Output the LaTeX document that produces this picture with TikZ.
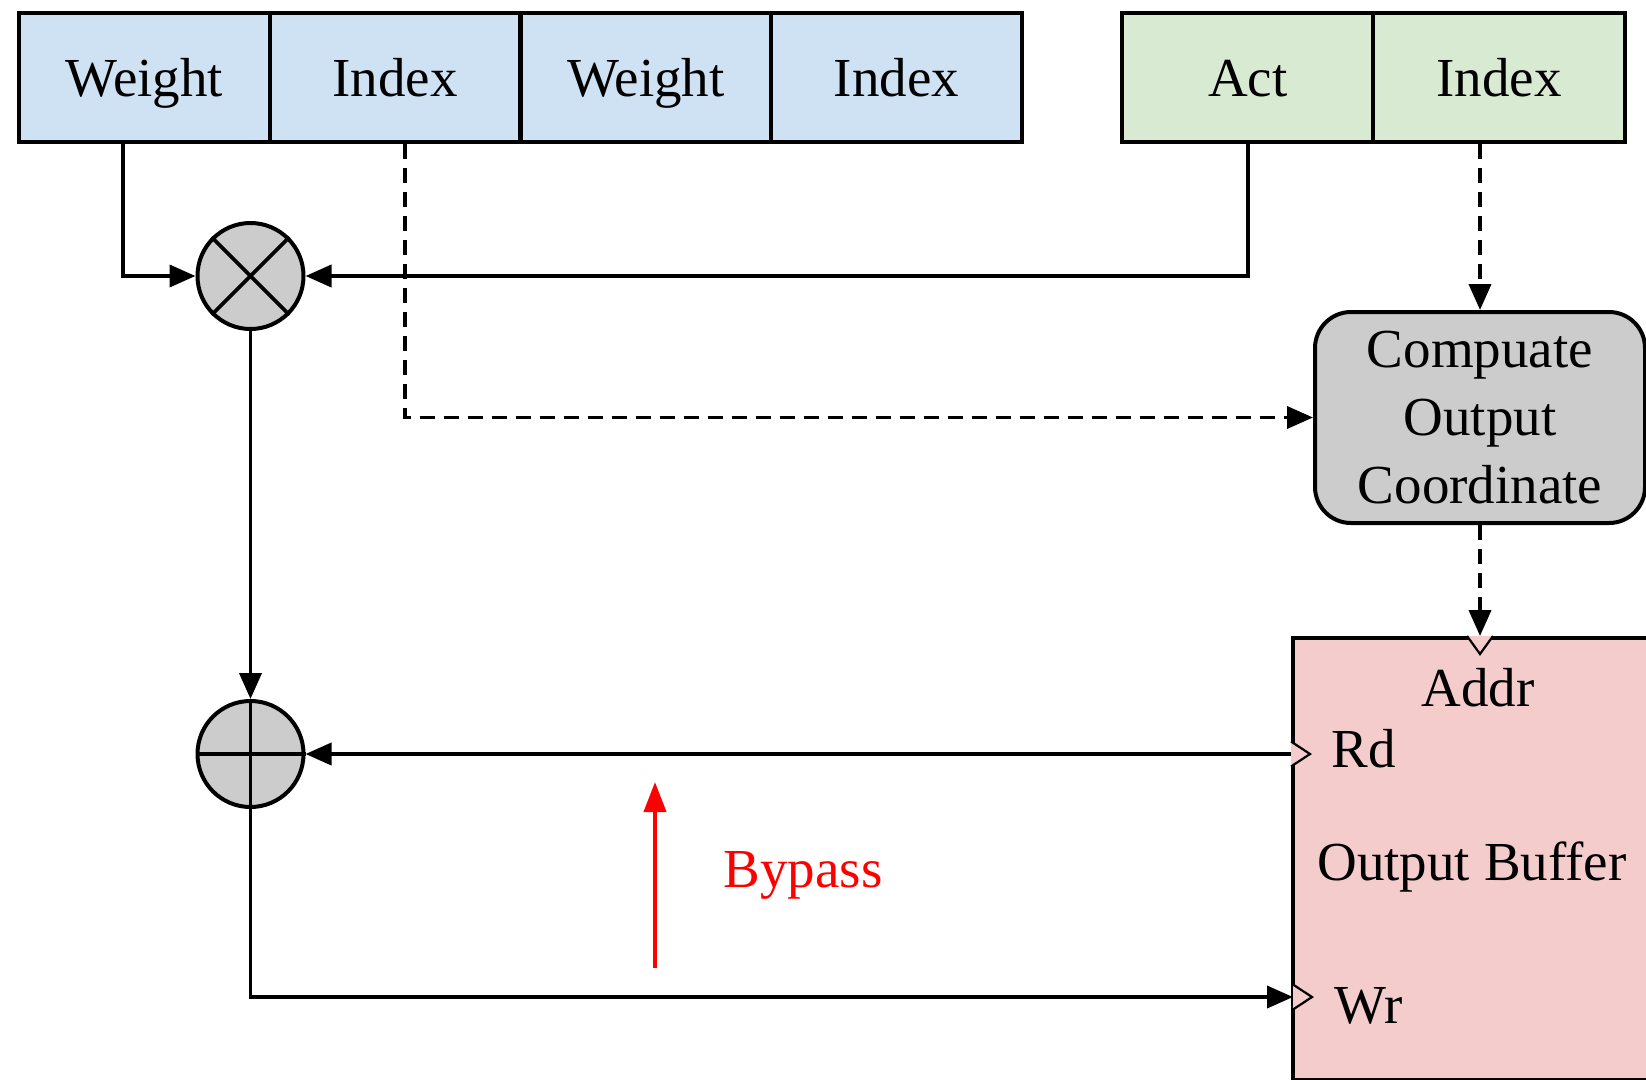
\documentclass[tikz,border=0pt]{standalone}
\usepackage{fontspec}
\setmainfont{Liberation Serif}
\usetikzlibrary{arrows.meta,calc}

\definecolor{wblue}{RGB}{207,226,243}
\definecolor{agreen}{RGB}{217,234,211}
\definecolor{opgray}{RGB}{204,204,204}
\definecolor{bufpink}{RGB}{244,204,204}

\begin{document}
\begin{tikzpicture}[x=1pt,y=-1pt,
  font=\fontsize{55}{66}\selectfont,
  cell/.style={draw,line width=4pt,minimum width=250.75pt,minimum height=129pt,
    inner sep=0pt,text height=42pt,text depth=4pt},
  opcircle/.style={circle,draw,line width=4pt,fill=opgray,minimum size=106pt,inner sep=0pt},
  wire/.style={line width=3.8pt},
  arr/.style={wire,-{Triangle[length=26pt,width=22pt]}},
  dashwire/.style={dash pattern=on 15pt off 9pt},
  port/.style={line width=2.2pt,fill=bufpink}
]
\useasboundingbox (0,0) rectangle (1646,1079);
\clip (0,0) rectangle (1646,1079);

% weight / index stream
\node[cell,fill=wblue] (w1) at (144.4,77.5) {Weight};
\node[cell,fill=wblue] (i1) at (395.1,77.5) {Index};
\node[cell,fill=wblue] (w2) at (645.9,77.5) {Weight};
\node[cell,fill=wblue] (i2) at (896.6,77.5) {Index};

% activation stream
\node[cell,fill=agreen,minimum width=251.5pt] (act) at (1247.8,77.5) {Act};
\node[cell,fill=agreen,minimum width=251.5pt] (i3) at (1499.2,77.5) {Index};

% coordinate unit
\node[draw,line width=4pt,fill=opgray,rounded corners=36pt,minimum width=330pt,
  minimum height=211pt,align=center,inner sep=0pt] (cmp) at (1480,417.5)
  {Compuate\\[2pt]Output\\[2pt]Coordinate};

% output buffer (runs past the page edge)
\node[draw,line width=4pt,fill=bufpink,minimum width=420pt,minimum height=442pt,
  inner sep=0pt] (buf) at (1503,859) {};
\node[anchor=base] (addr) at (1478,706) {Addr};
\node[anchor=base west] (rdl) at (1328,767) {Rd};
\node[anchor=base] (obl) at (1472,880) {Output Buffer};
\node[anchor=base west] (wrl) at (1331,1023) {Wr};

% multiplier and adder
\node[opcircle] (mul) at (250.5,276) {};
\draw[wire] (mul.45) -- (mul.225) (mul.135) -- (mul.315);
\node[opcircle] (add) at (250.5,754) {};
\draw[wire] (add.north) -- (add.south) (add.west) -- (add.east);

% buffer ports
\coordinate (pa) at (cmp.south |- buf.north);
\coordinate (prd) at (buf.west |- add.east);
\coordinate (pwr) at (1293,997);
\draw[port] ($(pa)+(-13,0)$) -- ($(pa)+(0,18)$) -- ($(pa)+(13,0)$);
\draw[port] ($(prd)+(0,-12.5)$) -- ($(prd)+(19,0)$) -- ($(prd)+(0,12.5)$);
\draw[port] ($(pwr)+(0,-12.5)$) -- ($(pwr)+(19,0)$) -- ($(pwr)+(0,12.5)$);

% data paths
\draw[arr] ([xshift=-21.4pt]w1.south) |- (mul.west);
\draw[arr] (act.south) |- (mul.east);
\draw[arr] (mul.south) -- (add.north);
\draw[arr] (prd) -- (add.east);
\draw[arr] (add.south) |- (pwr);

% index paths
\draw[arr,dashwire] ([xshift=10pt]i1.south) |- (cmp.west);
\draw[arr,dashwire] (i3.south -| cmp.north) -- (cmp.north);
\draw[arr,dashwire] (cmp.south) -- (pa);

% bypass
\coordinate (bp0) at (655,968);
\coordinate (bp1) at (655,782);
\draw[red,line width=4pt,-{Triangle[length=30pt,width=22pt]}] (bp0) -- (bp1);
\node[red,anchor=base west] (bpl) at (720,887) {Bypass};
\end{tikzpicture}
\end{document}
